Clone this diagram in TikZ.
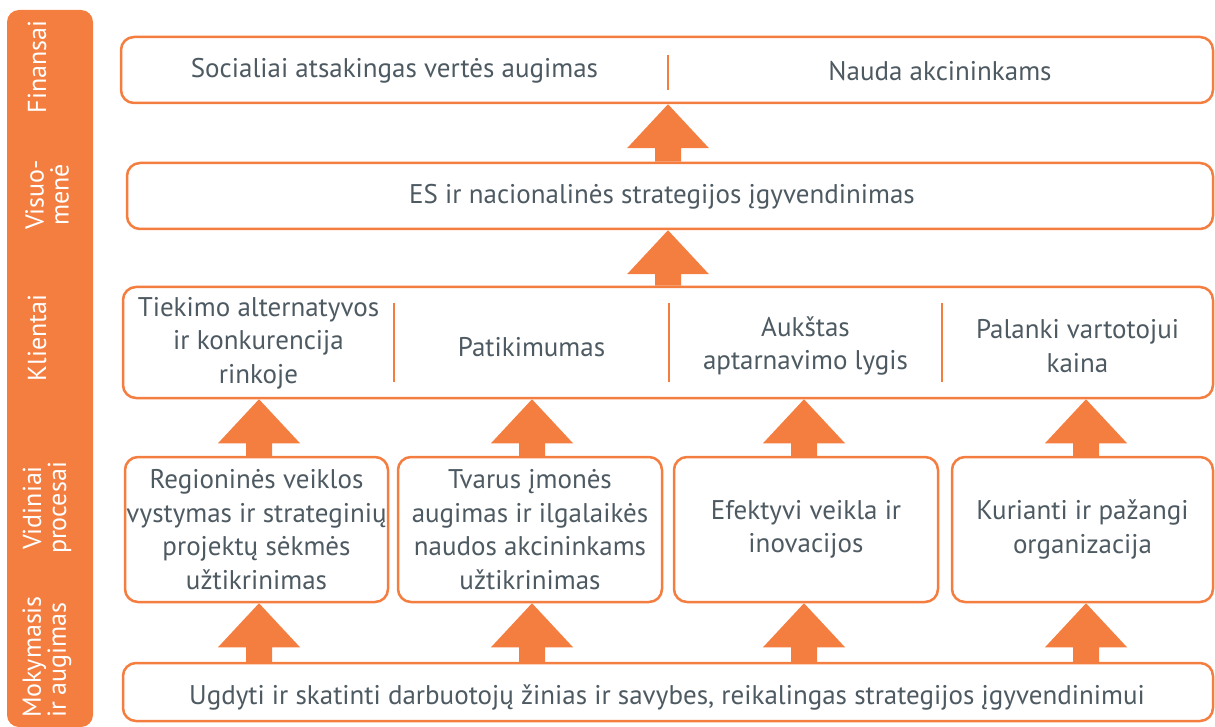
\documentclass[tikz,border=0pt]{standalone}
\usepackage{fontspec}
\setmainfont{PT Sans}
\usetikzlibrary{calc}
\definecolor{orangec}{HTML}{F47D40}
\definecolor{textc}{HTML}{4E5A62}
\newcommand\blockarr[3]{%
  \coordinate (ax) at (#1,0);
  \coordinate (tipA) at (ax |- #3.south);
  \coordinate (tailA) at (ax |- #2.north);
  \fill[blockarrow] (tipA) -- ($(tipA)+(41,44)$) -- ($(tipA)+(13,44)$) -- ($(tailA)+(13,0)$) -- ($(tailA)+(-13,0)$) -- ($(tipA)+(-13,44)$) -- ($(tipA)+(-41,44)$) -- cycle;}
\begin{document}
\begin{tikzpicture}[x=1pt,y=-1pt,
  box/.style={draw=orangec, line width=2.5pt, rounded corners=13pt, fill=white, inner sep=0pt},
  txt/.style={text=textc, font=\fontsize{27}{33.5}\selectfont, align=center, inner sep=0pt},
  lab/.style={text=white, font=\fontsize{26}{25}\selectfont, rotate=90, align=center, inner sep=0pt},
  divider/.style={draw=orangec, line width=2.5pt},
  blockarrow/.style={fill=orangec}]
\useasboundingbox (0,0) rectangle (1215,727);
% side bar
\node[fill=orangec, rounded corners=12pt, minimum width=86pt, minimum height=717pt, inner sep=0pt] (bar) at (50,368.5) {};
\node[lab] (l1) at (37,67) {Finansai};
\node[lab] (l2) at (47,195) {Visuo-\\menė};
\node[lab] (l3) at (37,338) {Klientai};
\node[lab] (l4) at (47,508) {Vidiniai\\procesai};
\node[lab, align=left] (l5) at (47,657) {Mokymasis\\ir augimas};
% row 1
\node[box, minimum width=1092pt, minimum height=66pt] (r1) at (667,70) {};
\node[txt] (t1a) at (394.5,71) {Socialiai atsakingas vertės augimas};
\node[txt] (t1b) at (940,71) {Nauda akcininkams};
\draw[divider] (668,55) -- (668,90);
% row 2
\node[box, minimum width=1086pt, minimum height=66pt] (r2) at (670,196) {};
\node[txt] (t2) at (662,197) {ES ir nacionalinės strategijos įgyvendinimas};
% row 3
\node[box, minimum width=1090pt, minimum height=111pt] (r3) at (668,342.5) {};
\node[txt] (t3a) at (258.5,343) {Tiekimo alternatyvos\\ir konkurencija\\rinkoje};
\node[txt] (t3b) at (531.5,347) {Patikimumas};
\node[txt] (t3c) at (805.5,346) {Aukštas\\aptarnavimo lygis};
\node[txt] (t3d) at (1077.5,346) {Palanki vartotojui\\kaina};
\draw[divider] (394,303) -- (394,382);
\draw[divider] (669,303) -- (669,382);
\draw[divider] (942,303) -- (942,382);
% row 4
\node[box, txt, minimum width=263pt, minimum height=145pt] (b1) at (256.5,529.5) {Regioninės veiklos\\vystymas ir strateginių\\projektų sėkmės\\užtikrinimas};
\node[box, txt, minimum width=264pt, minimum height=145pt] (b2) at (530,529.5) {Tvarus įmonės\\augimas ir ilgalaikės\\naudos akcininkams\\užtikrinimas};
\node[box, txt, minimum width=264pt, minimum height=145pt] (b3) at (806,529.5) {Efektyvi veikla ir\\inovacijos};
\node[box, txt, minimum width=261pt, minimum height=145pt] (b4) at (1082.5,529.5) {Kurianti ir pažangi\\organizacija};
% row 5
\node[box, minimum width=1090pt, minimum height=58pt] (r5) at (668,692) {};
\node[txt] (t5) at (667,697) {Ugdyti ir skatinti darbuotojų žinias ir savybes, reikalingas strategijos įgyvendinimui};
% arrows
\blockarr{668}{r2}{r1}
\blockarr{668}{r3}{r2}
\blockarr{259}{b1}{r3}
\blockarr{532}{b2}{r3}
\blockarr{804}{b3}{r3}
\blockarr{1086}{b4}{r3}
\blockarr{259}{r5}{b1}
\blockarr{532}{r5}{b2}
\blockarr{804}{r5}{b3}
\blockarr{1086}{r5}{b4}
\end{tikzpicture}
\end{document}
